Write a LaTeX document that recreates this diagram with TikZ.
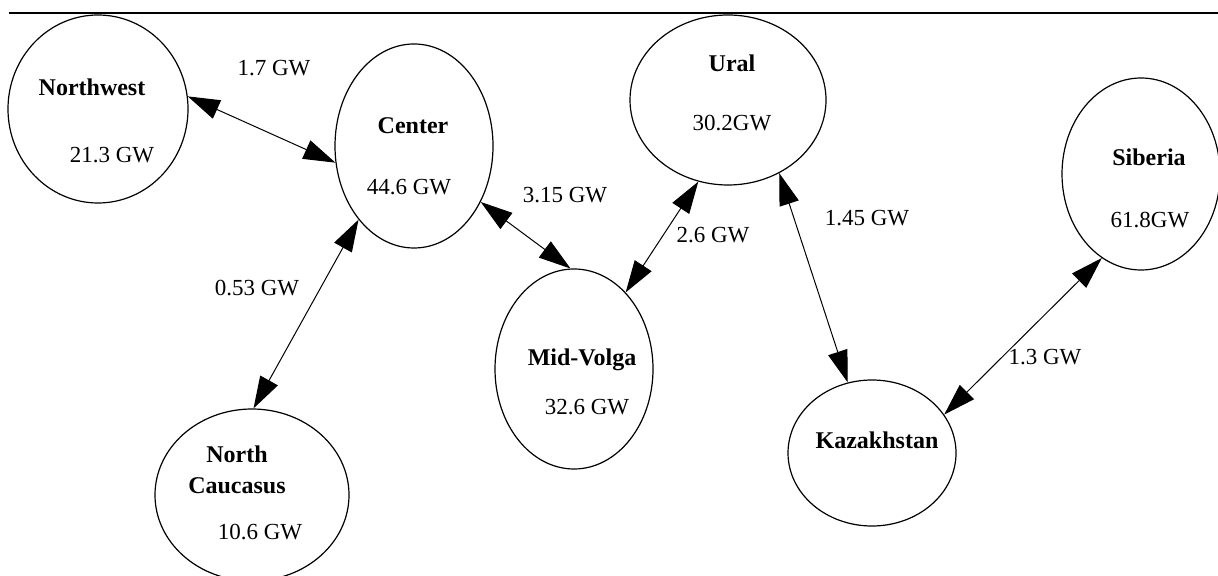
\documentclass[tikz,border=0pt]{standalone}
\usepackage{fontspec}
\setmainfont{Liberation Serif}
\usetikzlibrary{shapes.geometric,arrows.meta}
\begin{document}
\begin{tikzpicture}[x=0.5pt,y=-0.5pt,
  region/.style={draw,ellipse,inner sep=0pt,line width=0.6pt},
  rname/.style={font=\fontsize{12}{15.5}\selectfont\bfseries,inner sep=0pt,align=center},
  val/.style={font=\fontsize{11.5}{14}\selectfont,inner sep=0pt},
  link/.style={{Triangle[length=16pt,width=10pt]}-{Triangle[length=16pt,width=10pt]},line width=0.5pt}]
\useasboundingbox (0,0) rectangle (1218,576);
% top rule
\coordinate (tl) at (9,13);
\coordinate (tr) at (1218,13);
\draw[line width=0.7pt] (tl) -- (tr);
% regions
\node[region,minimum width=90pt,minimum height=94pt] (nw) at (98,109) {};
\node[region,minimum width=79pt,minimum height=102pt] (ce) at (414,146) {};
\node[region,minimum width=98pt,minimum height=85pt] (ur) at (728,100) {};
\node[region,minimum width=79pt,minimum height=96pt] (si) at (1141,174) {};
\node[region,minimum width=79pt,minimum height=100pt] (mv) at (574,369) {};
\node[region,minimum width=97pt,minimum height=86pt] (nc) at (252,495) {};
\node[region,minimum width=84pt,minimum height=73pt] (kz) at (872,453) {};
% region texts
\node[rname] (nwt) at (92,87) {Northwest};
\node[val] (nwv) at (112,155) {21.3 GW};
\node[rname] (cet) at (413,126) {Center};
\node[val] (cev) at (409,187) {44.6 GW};
\node[rname] (urt) at (732,63) {Ural};
\node[val] (urv) at (732,123) {30.2GW};
\node[rname] (sit) at (1149,157) {Siberia};
\node[val] (siv) at (1150,220) {61.8GW};
\node[rname] (mvt) at (582,360) {Mid-Volga};
\node[val] (mvv) at (587,407) {32.6 GW};
\node[rname] (nct) at (237,470) {North\\Caucasus};
\node[val] (ncv) at (260,532) {10.6 GW};
\node[rname] (kzt) at (877,440) {Kazakhstan};
% links
\draw[link] (nw.8.8) -- (ce.192);
\draw[link] (ce.233) -- (nc.89);
\draw[link] (ce.320) -- (mv.92);
\draw[link] (mv.56) -- (ur.250);
\draw[link] (ur.305) -- (kz.109);
\draw[link] (kz.28) -- (si.245.6);
% link labels
\node[val] (l1) at (274,68) {1.7 GW};
\node[val] (l2) at (257,288) {0.53 GW};
\node[val] (l3) at (565,195) {3.15 GW};
\node[val] (l4) at (713,235) {2.6 GW};
\node[val] (l5) at (867,218) {1.45 GW};
\node[val] (l6) at (1045,357) {1.3 GW};
\end{tikzpicture}
\end{document}
